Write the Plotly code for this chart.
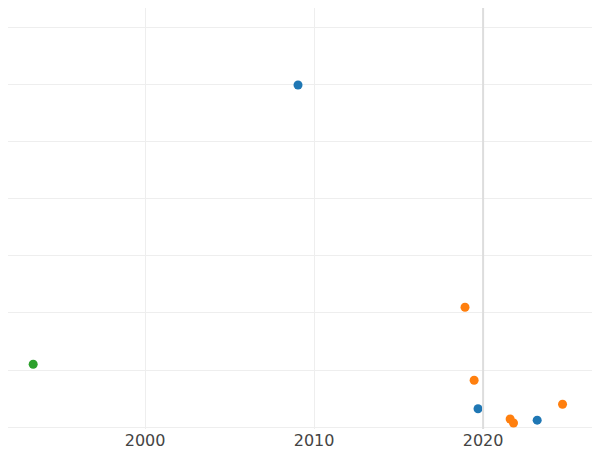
import plotly.graph_objects as go

blue_x = [2009.05, 2019.7, 2023.2]
blue_y = [6.0, 0.32, 0.12]
orange_x = [2018.93, 2019.47, 2021.6, 2021.8, 2024.7]
orange_y = [2.1, 0.82, 0.14, 0.07, 0.4]
green_x = [1993.38]
green_y = [1.1]

fig = go.Figure()
for xs, ys, c in [(blue_x, blue_y, "#1f77b4"), (orange_x, orange_y, "#ff7f0e"), (green_x, green_y, "#2ca02c")]:
    fig.add_trace(go.Scatter(x=xs, y=ys, mode="markers", marker=dict(color=c, size=9), cliponaxis=False))

fig.add_shape(type="line", x0=2020, x1=2020, y0=0, y1=1, yref="paper", line=dict(color="#dddddd", width=2))

fig.update_layout(
    width=600, height=450, showlegend=False,
    margin=dict(l=0, r=0, t=0, b=29),
    plot_bgcolor="white", paper_bgcolor="white",
    font=dict(family="DejaVu Sans", size=16, color="#444"),
    xaxis=dict(range=[1991.89, 2027.39], tickvals=[2000, 2010, 2020], showgrid=True, gridcolor="#eeeeee", zeroline=False, ticks=""),
    yaxis=dict(range=[-0.035, 7.35], dtick=1, showticklabels=False, showgrid=True, gridcolor="#eeeeee", zeroline=False),
)
fig.write_html("out.html")
